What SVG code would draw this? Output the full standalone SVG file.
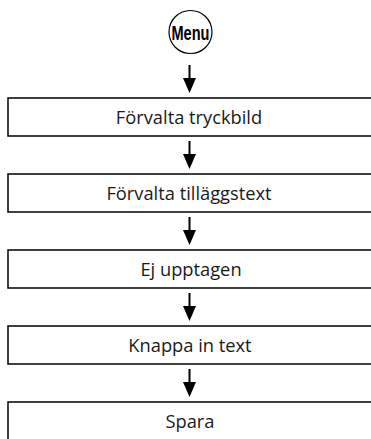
<svg xmlns="http://www.w3.org/2000/svg" width="371" height="439" viewBox="0 0 371 439">
<style>
.box{fill:#fff;stroke:#000;stroke-width:1.5}
.lbl{font-family:"Open Sans",sans-serif;font-size:18.3px;fill:#1a1a1a;text-anchor:middle}
.con line{stroke:#000;stroke-width:2}
.con polygon{fill:#000}
</style>
<g id="menu">
<circle cx="190.5" cy="32" r="21.5" fill="#fff" stroke="#000" stroke-width="1.2"/>
<text x="190.5" y="40" font-family="Liberation Sans,sans-serif" font-size="21" font-weight="bold" text-anchor="middle" textLength="38" lengthAdjust="spacingAndGlyphs" fill="#000">Menu</text>
</g>
<g class="con">
<line x1="189.5" y1="65" x2="189.5" y2="80"/><polygon points="183,78 196,78 189.5,93"/>
<line x1="189.5" y1="141" x2="189.5" y2="156"/><polygon points="183,154 196,154 189.5,169"/>
<line x1="189.5" y1="217" x2="189.5" y2="232"/><polygon points="183,230 196,230 189.5,245"/>
<line x1="189.5" y1="293" x2="189.5" y2="308"/><polygon points="183,306 196,306 189.5,321"/>
<line x1="189.5" y1="369" x2="189.5" y2="384"/><polygon points="183,382 196,382 189.5,397"/>
</g>
<g id="n1"><rect class="box" x="8" y="98" width="370" height="38"/><text class="lbl" x="189" y="124">Förvalta tryckbild</text></g>
<g id="n2"><rect class="box" x="8" y="174" width="370" height="38"/><text class="lbl" x="189" y="200">Förvalta tilläggstext</text></g>
<g id="n3"><rect class="box" x="8" y="250" width="370" height="38"/><text class="lbl" x="191" y="276">Ej upptagen</text></g>
<g id="n4"><rect class="box" x="8" y="326" width="370" height="38"/><text class="lbl" x="190" y="352">Knappa in text</text></g>
<g id="n5"><rect class="box" x="8" y="402" width="370" height="50"/><text class="lbl" x="190" y="428">Spara</text></g>
</svg>
